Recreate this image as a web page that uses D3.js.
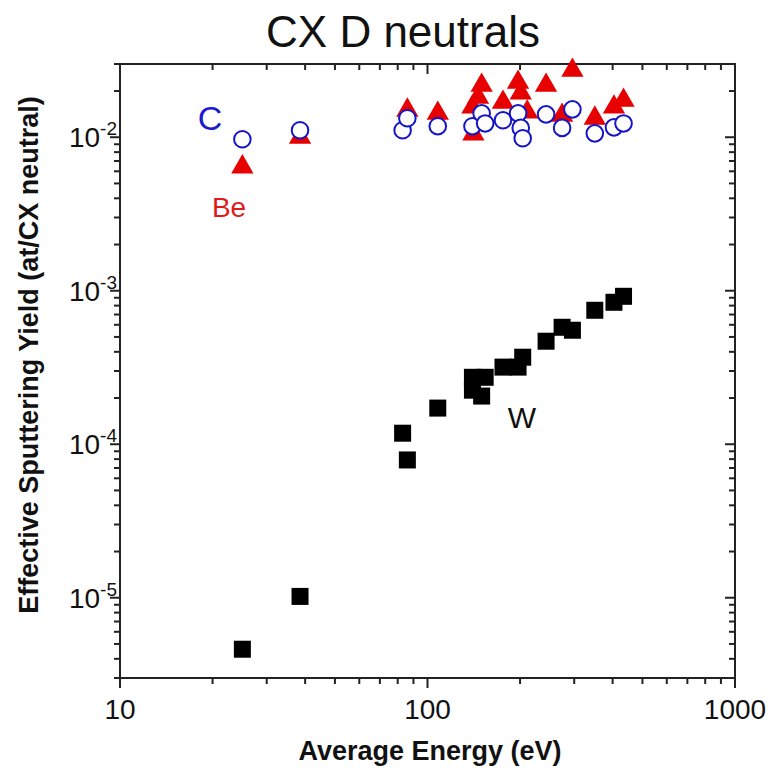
<!DOCTYPE html>
<html>
<head>
<meta charset="utf-8">
<script src="https://cdn.jsdelivr.net/npm/d3@7/dist/d3.min.js"></script>
<style>
  html, body { margin: 0; padding: 0; background: #fff; }
  svg { display: block; font-family: "Liberation Sans", Arial, Helvetica, sans-serif; }
</style>
</head>
<body>
<svg id="chart" width="770" height="777"></svg>
<script>
// Effective sputtering yield per CX neutral vs. average energy
const beEnergy = [25, 38.5, 86, 108, 140, 141, 146, 150, 176, 197, 201, 211, 243, 274, 296, 350, 404, 434];
const beYield  = [6.4e-3, 1.0e-2, 1.50e-2, 1.43e-2, 1.57e-2, 1.05e-2, 1.82e-2, 2.18e-2, 1.69e-2, 2.28e-2, 1.94e-2, 1.46e-2, 2.18e-2, 1.39e-2, 2.73e-2, 1.33e-2, 1.57e-2, 1.74e-2];

const cEnergy = [25, 38.5, 83, 86, 108, 140, 150, 154, 176, 197, 201, 204, 243, 274, 296, 350, 404, 434];
const cYield  = [9.7e-3, 1.11e-2, 1.11e-2, 1.33e-2, 1.18e-2, 1.18e-2, 1.43e-2, 1.23e-2, 1.29e-2, 1.43e-2, 1.15e-2, 9.85e-3, 1.41e-2, 1.15e-2, 1.52e-2, 1.06e-2, 1.16e-2, 1.23e-2];

const wEnergy = [25, 38.5, 83, 86, 108, 140, 140, 150, 154, 176, 197, 204, 243, 274, 296, 350, 404, 434];
const wYield  = [4.62e-6, 1.02e-5, 1.18e-4, 7.9e-5, 1.72e-4, 2.73e-4, 2.25e-4, 2.06e-4, 2.73e-4, 3.18e-4, 3.18e-4, 3.69e-4, 4.69e-4, 5.78e-4, 5.53e-4, 7.46e-4, 8.41e-4, 9.2e-4];

const xMajorTicks = [10, 100, 1000];
const xTickLabels = ["10", "100", "1000"];
const yMajorTicks = [1e-5, 1e-4, 1e-3, 1e-2];
const yTickExponents = ["-5", "-4", "-3", "-2"];

const titleText = "CX D neutrals";
const xTitle = "Average Energy (eV)";
const yTitle = "Effective Sputtering Yield (at/CX neutral)";

const svg = d3.select("#chart");
const plotLeft = 120, plotRight = 735, plotTop = 64, plotBottom = 678;

const x = d3.scaleLog().domain([10, 1000]).range([plotLeft, plotRight]);
const y = d3.scaleLog().domain([3e-6, 3e-2]).range([plotBottom, plotTop]);

// minor tick positions: 2..9 of each decade inside the domain
function minorTicks(scale) {
  const [a, b] = scale.domain();
  const out = [];
  for (let e = Math.floor(Math.log10(a)); e <= Math.ceil(Math.log10(b)); e++) {
    for (let m = 2; m <= 9; m++) {
      const v = m * Math.pow(10, e);
      if (v >= a * 0.9999 && v <= b * 1.0001) out.push(v);
    }
  }
  return out;
}

const axisColor = "#222";
const axisG = svg.append("g");

// frame
axisG.append("rect")
  .attr("x", plotLeft).attr("y", plotTop)
  .attr("width", plotRight - plotLeft).attr("height", plotBottom - plotTop)
  .attr("fill", "none").attr("stroke", axisColor).attr("stroke-width", 2);

const majorLen = 10, minorLen = 6;
const xMinor = minorTicks(x), yMinor = minorTicks(y);

// bottom (outward) and top (inward) ticks
[[xMajorTicks, majorLen], [xMinor, minorLen]].forEach(([vals, len]) => {
  axisG.selectAll(null).data(vals).enter().append("line")
    .attr("x1", d => x(d)).attr("x2", d => x(d))
    .attr("y1", plotBottom).attr("y2", plotBottom + len)
    .attr("stroke", axisColor).attr("stroke-width", 2);
  axisG.selectAll(null).data(vals).enter().append("line")
    .attr("x1", d => x(d)).attr("x2", d => x(d))
    .attr("y1", plotTop).attr("y2", plotTop + len)
    .attr("stroke", axisColor).attr("stroke-width", 2);
});

// left (outward) and right (inward) ticks
[[yMajorTicks, majorLen], [yMinor, minorLen]].forEach(([vals, len]) => {
  axisG.selectAll(null).data(vals).enter().append("line")
    .attr("y1", d => y(d)).attr("y2", d => y(d))
    .attr("x1", plotLeft).attr("x2", plotLeft - len)
    .attr("stroke", axisColor).attr("stroke-width", 2);
  axisG.selectAll(null).data(vals).enter().append("line")
    .attr("y1", d => y(d)).attr("y2", d => y(d))
    .attr("x1", plotRight).attr("x2", plotRight - len)
    .attr("stroke", axisColor).attr("stroke-width", 2);
});

// x tick labels
axisG.selectAll(null).data(xMajorTicks).enter().append("text")
  .attr("x", d => x(d)).attr("y", 719)
  .attr("text-anchor", "middle")
  .attr("font-size", 28)
  .attr("fill", "#111")
  .text((d, i) => xTickLabels[i]);

// y tick labels: 10 with superscript exponent
const yl = axisG.selectAll(null).data(yMajorTicks).enter().append("text")
  .attr("x", 117).attr("y", d => y(d) + 10)
  .attr("text-anchor", "end")
  .attr("fill", "#111");
yl.append("tspan").attr("font-size", 28).text("10");
yl.append("tspan").attr("font-size", 19).attr("dy", -12).text((d, i) => yTickExponents[i]);

// titles
svg.append("text")
  .attr("x", 403).attr("y", 47)
  .attr("text-anchor", "middle")
  .attr("font-size", 44)
  .attr("fill", "#111")
  .text(titleText);

svg.append("text")
  .attr("x", 430).attr("y", 760)
  .attr("text-anchor", "middle")
  .attr("font-size", 27).attr("font-weight", "bold")
  .attr("fill", "#111")
  .text(xTitle);

svg.append("text")
  .attr("transform", "translate(38,355) rotate(-90)")
  .attr("text-anchor", "middle")
  .attr("font-size", 27).attr("font-weight", "bold")
  .attr("fill", "#111")
  .text(yTitle);

// data marks
const plot = svg.append("g");

// W: filled squares
const sq = 17;
plot.selectAll("rect.w").data(wEnergy.map((e, i) => [e, wYield[i]])).enter().append("rect")
  .attr("class", "w")
  .attr("x", d => x(d[0]) - sq / 2).attr("y", d => y(d[1]) - sq / 2)
  .attr("width", sq).attr("height", sq)
  .attr("fill", "#000");

// Be: filled red triangles
const tri = d3.symbol().type(d3.symbolTriangle).size(215);
plot.selectAll("path.be").data(beEnergy.map((e, i) => [e, beYield[i]])).enter().append("path")
  .attr("class", "be")
  .attr("d", tri)
  .attr("transform", d => `translate(${x(d[0])},${y(d[1])})`)
  .attr("fill", "#e60000");

// C: open blue circles drawn over the triangles
plot.selectAll("circle.c").data(cEnergy.map((e, i) => [e, cYield[i]])).enter().append("circle")
  .attr("class", "c")
  .attr("cx", d => x(d[0])).attr("cy", d => y(d[1]))
  .attr("r", 8.3)
  .attr("fill", "#fff")
  .attr("stroke", "#1515c8").attr("stroke-width", 2);

// series labels
svg.append("text").attr("x", 210).attr("y", 130).attr("text-anchor", "middle")
  .attr("font-size", 34).attr("fill", "#1a1ad0").text("C");
svg.append("text").attr("x", 229).attr("y", 217).attr("text-anchor", "middle")
  .attr("font-size", 28).attr("fill", "#e01a1a").text("Be");
svg.append("text").attr("x", 522).attr("y", 428).attr("text-anchor", "middle")
  .attr("font-size", 30).attr("fill", "#111").text("W");
</script>
</body>
</html>
